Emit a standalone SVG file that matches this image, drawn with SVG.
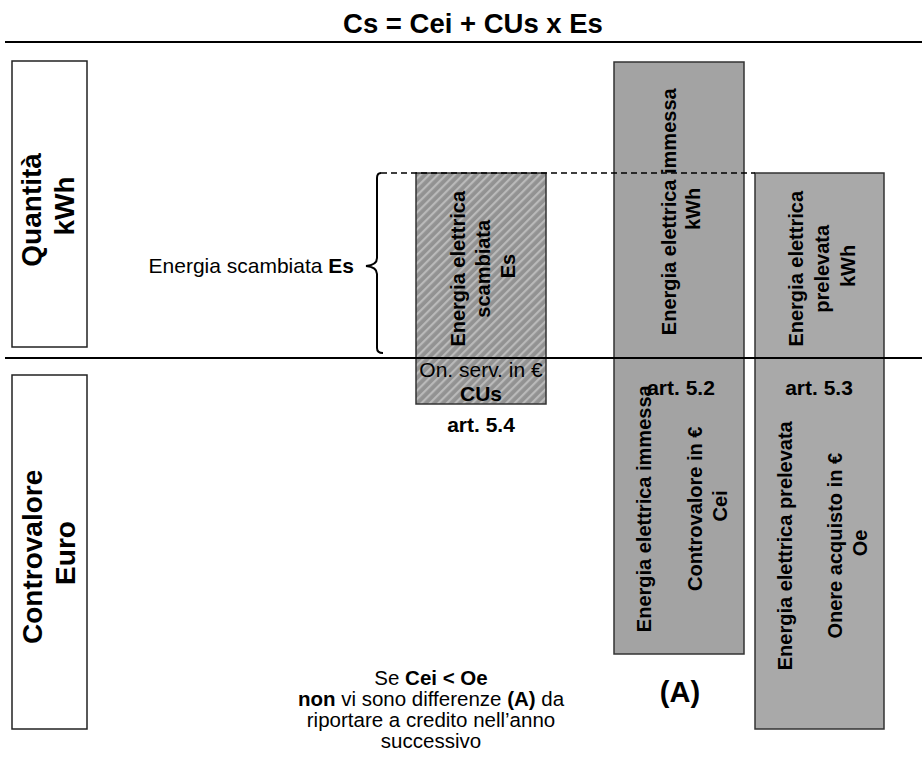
<svg xmlns="http://www.w3.org/2000/svg" width="922" height="765" viewBox="0 0 922 765">
  <style>
    text { font-family: "Liberation Sans", Arial, sans-serif; fill: #000; }
    .b { font-weight: bold; }
    .axis { font-size: 28px; font-weight: bold; text-anchor: middle; }
    .bar { font-size: 20px; font-weight: bold; text-anchor: middle; }
    .lbl { font-size: 21px; text-anchor: middle; }
    .note { font-size: 20.5px; text-anchor: middle; }
    .frame { fill: #fff; stroke: #222; stroke-width: 1.5; }
    .rule { stroke: #000; stroke-width: 2; fill: none; }
    .col { stroke: #333; stroke-width: 1.5; }
  </style>
  <defs>
    <pattern id="hatch" width="6" height="6" patternUnits="userSpaceOnUse" patternTransform="rotate(45)">
      <rect width="6" height="6" fill="#929292"/>
      <rect width="2.2" height="6" fill="#bababa"/>
    </pattern>
  </defs>

  <rect width="922" height="765" fill="#fff"/>

  <!-- formula heading -->
  <g id="title">
    <text class="b" x="473" y="33" font-size="27.5" text-anchor="middle">Cs = Cei + CUs x Es</text>
  </g>

  <!-- row labels -->
  <g id="row-quantita">
    <rect class="frame" x="12" y="61" width="75" height="286"/>
    <text class="axis" transform="translate(41,206) rotate(-90)">
      <tspan x="0" dy="0">Quantità</tspan>
      <tspan x="0" dy="33">kWh</tspan>
    </text>
  </g>
  <g id="row-controvalore">
    <rect class="frame" x="12" y="375" width="75" height="354"/>
    <text class="axis" transform="translate(42,553) rotate(-90)">
      <tspan x="0" dy="0">Controvalore</tspan>
      <tspan x="0" dy="33">Euro</tspan>
    </text>
  </g>

  <!-- exchanged energy (hatched) -->
  <g id="bar-scambiata">
    <rect class="col" x="416" y="173" width="130" height="231" fill="url(#hatch)"/>
    <text class="bar" transform="translate(465,266) rotate(-90)">
      <tspan x="0" dy="0">Energia elettrica</tspan>
      <tspan x="0" dy="25">scambiata</tspan>
      <tspan x="0" dy="25">Es</tspan>
    </text>
    <text class="lbl" x="481" y="377">On. serv. in €</text>
    <text class="lbl b" x="481" y="401">CUs</text>
    <text class="lbl b" x="481" y="432">art. 5.4</text>
  </g>

  <!-- injected energy -->
  <g id="bar-immessa">
    <rect class="col" x="614" y="62" width="130" height="592" fill="#a3a3a3"/>
    <text class="bar" transform="translate(676,209) rotate(-90)">
      <tspan x="0" dy="0">Energia elettrica immessa</tspan>
      <tspan x="0" dy="24">kWh</tspan>
    </text>
    <text class="bar" transform="translate(651,506) rotate(-90)">
      <tspan x="0" dy="0">Energia elettrica immessa</tspan>
      <tspan x="0" dy="51">Controvalore in €</tspan>
      <tspan x="0" dy="25">Cei</tspan>
    </text>
    <text class="lbl b" x="681" y="395">art. 5.2</text>
    <text class="b" x="680" y="702" font-size="29" text-anchor="middle">(A)</text>
  </g>

  <!-- withdrawn energy -->
  <g id="bar-prelevata">
    <rect class="col" x="755" y="173" width="129" height="556" fill="#a9a9a9"/>
    <text class="bar" transform="translate(803,266) rotate(-90)">
      <tspan x="0" dy="0">Energia elettrica</tspan>
      <tspan x="0" dy="26">prelevata</tspan>
      <tspan x="0" dy="26">kWh</tspan>
    </text>
    <text class="bar" transform="translate(792,543) rotate(-90)">
      <tspan x="0" dy="0">Energia elettrica prelevata</tspan>
      <tspan x="0" dy="50">Onere acquisto in €</tspan>
      <tspan x="0" dy="25">Oe</tspan>
    </text>
    <text class="lbl b" x="819" y="395">art. 5.3</text>
  </g>

  <!-- brace and caption for the exchanged share -->
  <g id="brace-es">
    <path class="rule" stroke-width="1.5" d="M381,173 Q377,173 377,178 L377,258 Q377,265 366,266 Q377,267 377,274 L377,348 Q377,353 383,353"/>
    <text x="354" y="273" font-size="21" text-anchor="end">Energia scambiata <tspan class="b">Es</tspan></text>
  </g>

  <!-- rules and guide lines -->
  <g id="connectors">
    <line class="rule" x1="5" y1="42" x2="922" y2="42"/>
    <line class="rule" x1="5" y1="358" x2="922" y2="358"/>
    <line x1="381" y1="173" x2="755" y2="173" stroke="#000" stroke-width="1.5" stroke-dasharray="6,4"/>
  </g>

  <!-- closing remark -->
  <g id="note">
    <text class="note" x="431" y="685">Se <tspan class="b">Cei &lt; Oe</tspan></text>
    <text class="note" x="431" y="706"><tspan class="b">non</tspan> vi sono differenze <tspan class="b">(A)</tspan> da</text>
    <text class="note" x="431" y="727">riportare a credito nell’anno</text>
    <text class="note" x="431" y="748">successivo</text>
  </g>
</svg>
